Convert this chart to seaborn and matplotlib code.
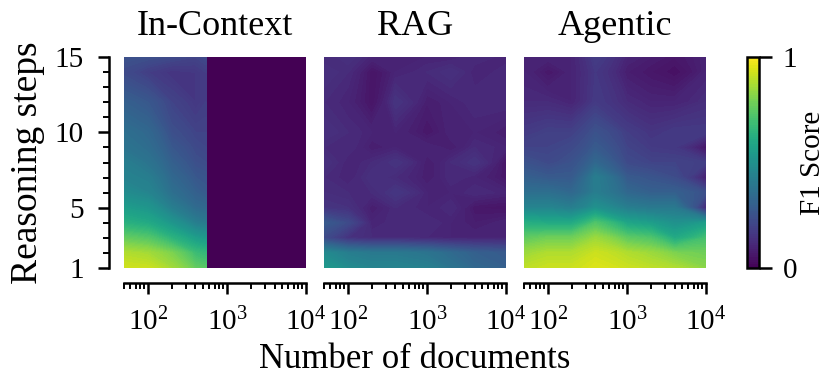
import numpy as np
import matplotlib.pyplot as plt
import seaborn as sns

# Grid of the sweep
steps = [1, 2, 3, 4, 5, 6, 7, 8, 9, 10, 12, 14, 15]
docs = [50, 100, 200, 400, 1000, 2000, 4000, 10000]
docs_in_context = [50, 100, 200, 400, 540]  # context window runs out after this

# F1 scores, rows = reasoning steps, cols = number of documents
f1_in_context = [
    [0.93, 0.92, 0.86, 0.76, 0.74],
    [0.88, 0.86, 0.80, 0.68, 0.66],
    [0.76, 0.73, 0.64, 0.55, 0.53],
    [0.63, 0.60, 0.52, 0.42, 0.40],
    [0.55, 0.52, 0.42, 0.34, 0.33],
    [0.48, 0.45, 0.36, 0.30, 0.28],
    [0.44, 0.42, 0.33, 0.27, 0.26],
    [0.42, 0.38, 0.30, 0.24, 0.23],
    [0.38, 0.35, 0.27, 0.22, 0.21],
    [0.36, 0.33, 0.24, 0.20, 0.20],
    [0.30, 0.27, 0.20, 0.16, 0.18],
    [0.22, 0.18, 0.15, 0.16, 0.18],
    [0.25, 0.24, 0.22, 0.20, 0.22],
]
f1_rag = [
    [0.54, 0.48, 0.45, 0.45, 0.43, 0.38, 0.33, 0.30],
    [0.47, 0.42, 0.40, 0.40, 0.38, 0.34, 0.30, 0.28],
    [0.22, 0.14, 0.12, 0.12, 0.11, 0.10, 0.10, 0.10],
    [0.28, 0.22, 0.10, 0.12, 0.12, 0.10, 0.08, 0.10],
    [0.15, 0.14, 0.08, 0.12, 0.10, 0.12, 0.06, 0.05],
    [0.13, 0.12, 0.12, 0.16, 0.10, 0.10, 0.12, 0.10],
    [0.12, 0.10, 0.14, 0.12, 0.08, 0.12, 0.10, 0.06],
    [0.14, 0.10, 0.12, 0.15, 0.08, 0.12, 0.15, 0.05],
    [0.12, 0.12, 0.08, 0.10, 0.10, 0.08, 0.12, 0.10],
    [0.14, 0.12, 0.10, 0.10, 0.06, 0.10, 0.10, 0.08],
    [0.12, 0.10, 0.05, 0.15, 0.08, 0.10, 0.12, 0.12],
    [0.14, 0.12, 0.05, 0.10, 0.12, 0.14, 0.10, 0.12],
    [0.12, 0.14, 0.10, 0.10, 0.10, 0.10, 0.12, 0.10],
]
f1_agentic = [
    [0.90, 0.92, 0.92, 0.95, 0.92, 0.90, 0.88, 0.82],
    [0.85, 0.88, 0.88, 0.92, 0.88, 0.85, 0.80, 0.78],
    [0.75, 0.78, 0.78, 0.85, 0.75, 0.72, 0.60, 0.70],
    [0.62, 0.60, 0.60, 0.72, 0.58, 0.55, 0.50, 0.55],
    [0.45, 0.45, 0.42, 0.50, 0.42, 0.40, 0.40, 0.10],
    [0.36, 0.36, 0.33, 0.42, 0.33, 0.30, 0.30, 0.24],
    [0.30, 0.28, 0.28, 0.42, 0.28, 0.26, 0.23, 0.08],
    [0.25, 0.22, 0.25, 0.33, 0.22, 0.20, 0.20, 0.18],
    [0.20, 0.20, 0.22, 0.28, 0.20, 0.17, 0.16, 0.05],
    [0.17, 0.19, 0.19, 0.25, 0.18, 0.15, 0.17, 0.17],
    [0.12, 0.12, 0.10, 0.17, 0.12, 0.10, 0.10, 0.13],
    [0.10, 0.06, 0.10, 0.16, 0.08, 0.06, 0.04, 0.10],
    [0.10, 0.10, 0.10, 0.18, 0.10, 0.08, 0.06, 0.10],
]

titles = ['In-Context', 'RAG', 'Agentic']
panels = [(docs_in_context, f1_in_context), (docs, f1_rag), (docs, f1_agentic)]

sns.set_theme(style="ticks", rc={'axes.edgecolor': 'black', 'text.color': 'black',
                                 'axes.labelcolor': 'black', 'xtick.color': 'black',
                                 'ytick.color': 'black'})
plt.rcParams['font.family'] = ['Liberation Serif', 'DejaVu Serif']
plt.rcParams['mathtext.fontset'] = 'stix'

cmap = sns.color_palette("viridis", as_cmap=True)
levels = np.linspace(0, 1, 101)

fig = plt.figure(figsize=(8.3, 3.83), dpi=100)
lefts = [124, 324, 524]
for i, (x, z) in enumerate(panels):
    ax = fig.add_axes([lefts[i] / 830, 115 / 383, 182 / 830, 211 / 383])
    ax.set_facecolor(cmap(0.0))
    cs = ax.contourf(x, steps, np.array(z), levels=levels, cmap=cmap,
                     vmin=0, vmax=1)
    cs.set_edgecolor('face')
    cs.set_linewidth(0.4)
    ax.set_xscale('log')
    ax.set_xlim(50, 1e4)
    ax.set_ylim(1, 15)
    ax.set_yticks([1, 5, 10, 15])
    ax.set_yticks(range(1, 16), minor=True)
    ax.set_title(titles[i], fontsize=26, pad=16)
    ax.tick_params(which='major', length=8, width=1.8, labelsize=21, pad=10)
    ax.tick_params(which='minor', length=4.5, width=1.4)
    if i == 0:
        sns.despine(ax=ax, offset=11)
        ax.set_ylabel('Reasoning steps', fontsize=27, labelpad=7)
    else:
        sns.despine(ax=ax, left=True, offset=11)
        ax.tick_params(axis='y', which='both', left=False, labelleft=False)
    for s in ['left', 'bottom']:
        ax.spines[s].set_linewidth(1.8)

fig.text(415 / 830, 15 / 383, 'Number of documents', ha='center',
         va='baseline', fontsize=25)

cax = fig.add_axes([747 / 830, 115 / 383, 12 / 830, 211 / 383])
cb = fig.colorbar(cs, cax=cax, ticks=[0, 1])
cb.ax.set_yticklabels(['0', '1'])
cb.ax.tick_params(length=9, width=1.8, labelsize=21, pad=8)
cb.outline.set_linewidth(1.8)
cb.set_label('F1 Score', fontsize=21, labelpad=2)

fig.savefig('out.png', dpi=100)
